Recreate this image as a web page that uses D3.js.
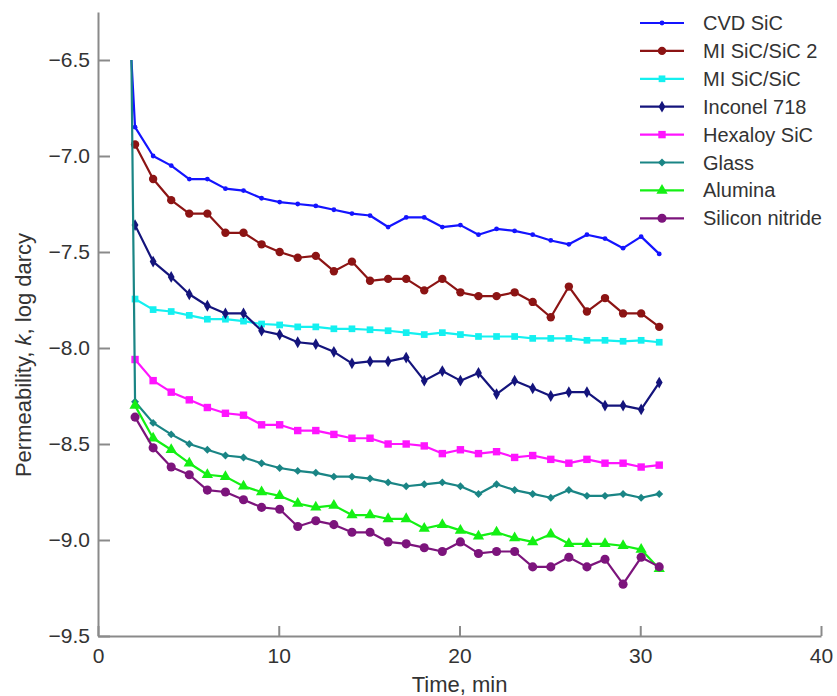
<!DOCTYPE html>
<html>
<head>
    <meta charset="utf-8">
    <title>Permeability vs time</title>
    <style>
        body { margin: 0; background: #fff; }
        svg { display: block; font-family: "Liberation Sans", Arial, sans-serif; }
        .axis path, .axis line { stroke: #8a8a8a; stroke-width: 2px; }
        .axis text { font-size: 21px; fill: #333; }
        .title { font-size: 22px; fill: #333; }
        .legend text { font-size: 20px; fill: #333; }
        .series { fill: none; stroke-width: 2.2px; stroke-linejoin: round; }
    </style>
    <script src="https://d3js.org/d3.v7.min.js"></script>
</head>
<body>
    <svg width="837" height="696"></svg>
    <script>
        // time of each reading (min)
        const times = [2.05, 3.05, 4.05, 5.05, 6.05, 7.05, 8.05, 9.05, 10.05, 11.05,
                       12.05, 13.05, 14.05, 15.05, 16.05, 17.05, 18.05, 19.05, 20.05, 21.05,
                       22.05, 23.05, 24.05, 25.05, 26.05, 27.05, 28.05, 29.05, 30.05, 31.05];

        // initial reading before the first drop (only some runs logged it)
        const spikeTime = 1.85;
        const spikeValue = -6.5;

        const cvdSiC = [-6.85, -7.00, -7.05, -7.12, -7.12, -7.17, -7.18, -7.22, -7.24, -7.25,
                        -7.26, -7.28, -7.30, -7.31, -7.37, -7.32, -7.32, -7.37, -7.36, -7.41,
                        -7.38, -7.39, -7.41, -7.44, -7.46, -7.41, -7.43, -7.48, -7.42, -7.51];
        const miSiC2 = [-6.94, -7.12, -7.23, -7.30, -7.30, -7.40, -7.40, -7.46, -7.50, -7.53,
                        -7.52, -7.60, -7.55, -7.65, -7.64, -7.64, -7.70, -7.64, -7.71, -7.73,
                        -7.73, -7.71, -7.76, -7.84, -7.68, -7.81, -7.74, -7.82, -7.82, -7.89];
        const miSiC = [-7.745, -7.80, -7.81, -7.83, -7.85, -7.85, -7.86, -7.875, -7.88, -7.89,
                       -7.89, -7.90, -7.90, -7.905, -7.91, -7.92, -7.93, -7.92, -7.93, -7.94,
                       -7.94, -7.94, -7.95, -7.95, -7.95, -7.96, -7.96, -7.965, -7.96, -7.97];
        const inconel = [-7.36, -7.55, -7.63, -7.72, -7.78, -7.82, -7.82, -7.91, -7.93, -7.97,
                         -7.98, -8.02, -8.08, -8.07, -8.07, -8.05, -8.17, -8.12, -8.17, -8.13,
                         -8.24, -8.17, -8.21, -8.25, -8.23, -8.23, -8.30, -8.30, -8.32, -8.18];
        const hexaloy = [-8.06, -8.17, -8.23, -8.27, -8.31, -8.34, -8.35, -8.40, -8.40, -8.43,
                         -8.43, -8.45, -8.47, -8.47, -8.50, -8.50, -8.51, -8.55, -8.53, -8.55,
                         -8.54, -8.57, -8.56, -8.58, -8.60, -8.58, -8.60, -8.60, -8.62, -8.61];
        const glass = [-8.28, -8.39, -8.45, -8.50, -8.53, -8.56, -8.57, -8.60, -8.625, -8.64,
                       -8.65, -8.67, -8.67, -8.68, -8.70, -8.72, -8.71, -8.70, -8.72, -8.76,
                       -8.71, -8.74, -8.76, -8.78, -8.74, -8.77, -8.77, -8.76, -8.78, -8.76];
        const alumina = [-8.30, -8.47, -8.53, -8.60, -8.66, -8.67, -8.72, -8.75, -8.77, -8.81,
                         -8.83, -8.82, -8.87, -8.87, -8.89, -8.89, -8.94, -8.92, -8.95, -8.98,
                         -8.96, -8.99, -9.01, -8.97, -9.02, -9.02, -9.02, -9.03, -9.05, -9.15];
        const siNitride = [-8.36, -8.52, -8.62, -8.66, -8.74, -8.75, -8.79, -8.83, -8.84, -8.93,
                           -8.90, -8.92, -8.96, -8.96, -9.01, -9.02, -9.04, -9.06, -9.01, -9.07,
                           -9.06, -9.06, -9.14, -9.14, -9.09, -9.14, -9.10, -9.23, -9.09, -9.14];

        const xTicks = [0, 10, 20, 30, 40];
        const yTicks = [-6.5, -7.0, -7.5, -8.0, -8.5, -9.0, -9.5];

        const series = [
            { name: "CVD SiC",         values: cvdSiC,    color: "#1414ff", symbol: d3.symbolCircle,   size: 18, spike: true },
            { name: "MI SiC/SiC 2",    values: miSiC2,    color: "#8c1414", symbol: d3.symbolCircle,   size: 55 },
            { name: "MI SiC/SiC",      values: miSiC,     color: "#14f0f0", symbol: d3.symbolSquare,   size: 45 },
            { name: "Inconel 718",     values: inconel,   color: "#14147c", symbol: d3.symbolDiamond,  size: 40 },
            { name: "Hexaloy SiC",     values: hexaloy,   color: "#ff14ff", symbol: d3.symbolSquare,   size: 55 },
            { name: "Glass",           values: glass,     color: "#1a8585", symbol: d3.symbolDiamond2, size: 40, spike: true },
            { name: "Alumina",         values: alumina,   color: "#14f014", symbol: d3.symbolTriangle, size: 55 },
            { name: "Silicon nitride", values: siNitride, color: "#7c147c", symbol: d3.symbolCircle,   size: 65 }
        ];

        const svg = d3.select("svg");

        const x = d3.scaleLinear().domain([0, 40]).range([98, 821]);
        const y = d3.scaleLinear().domain([-9.5, -6.25]).range([636, 12]);

        // axes, ticks pointing inward
        svg.append("g")
            .attr("class", "axis")
            .attr("transform", "translate(0,636)")
            .call(d3.axisBottom(x).tickValues(xTicks).tickSize(-10).tickSizeOuter(0).tickPadding(12))
            .call(g => g.selectAll("text").attr("dy", "0.71em"));

        svg.append("g")
            .attr("class", "axis")
            .attr("transform", "translate(98,0)")
            .call(d3.axisLeft(y).tickValues(yTicks).tickFormat(d3.format(".1f")).tickSize(-12).tickSizeOuter(0).tickPadding(8));

        svg.selectAll(".axis text").attr("font-family", "Liberation Sans, Arial, sans-serif");

        // axis titles
        svg.append("text")
            .attr("class", "title")
            .attr("x", x(20))
            .attr("y", 692)
            .attr("text-anchor", "middle")
            .text("Time, min");

        const yTitle = svg.append("text")
            .attr("class", "title")
            .attr("transform", "translate(31,355) rotate(-90)")
            .attr("text-anchor", "middle");
        yTitle.append("tspan").text("Permeability, ");
        yTitle.append("tspan").attr("font-style", "italic").text("k");
        yTitle.append("tspan").text(", log darcy");

        // lines
        const line = d3.line().x(d => x(d[0])).y(d => y(d[1]));

        series.forEach(s => {
            const pts = times.map((t, i) => [t, s.values[i]]);
            const linePts = s.spike ? [[spikeTime, spikeValue]].concat(pts) : pts;

            svg.append("path")
                .attr("class", "series")
                .attr("stroke", s.color)
                .attr("d", line(linePts));

            svg.append("g")
                .selectAll("path")
                .data(pts)
                .enter()
                .append("path")
                .attr("transform", d => `translate(${x(d[0])},${y(d[1])})`)
                .attr("d", d3.symbol().type(s.symbol).size(s.size))
                .attr("fill", s.color);
        });

        // legend
        const legend = svg.append("g").attr("class", "legend");
        series.forEach((s, i) => {
            const ly = 23 + i * 27.9;
            legend.append("line")
                .attr("x1", 640).attr("x2", 684)
                .attr("y1", ly).attr("y2", ly)
                .attr("stroke", s.color)
                .attr("stroke-width", 2.2);
            legend.append("path")
                .attr("transform", `translate(662,${ly})`)
                .attr("d", d3.symbol().type(s.symbol).size(s.size))
                .attr("fill", s.color);
            legend.append("text")
                .attr("x", 703)
                .attr("y", ly)
                .attr("dy", "0.35em")
                .text(s.name);
        });
    </script>
</body>
</html>
